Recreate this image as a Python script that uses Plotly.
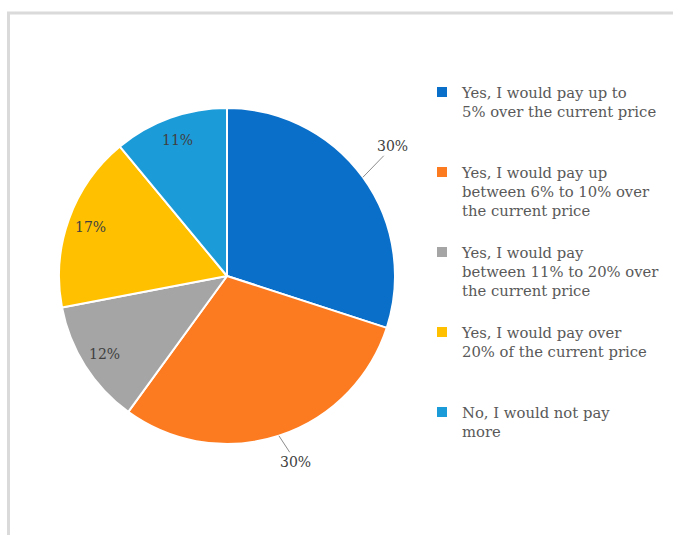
import math
import plotly.graph_objects as go

# ---- data ----
labels = [
    "Yes, I would pay up to<br>5% over the current price",
    "Yes, I would pay up<br>between 6% to 10% over<br>the current price",
    "Yes, I would pay<br>between 11% to 20% over<br>the current price",
    "Yes, I would pay over<br>20% of the current price",
    "No, I would not pay<br>more",
]
values = [30, 30, 12, 17, 11]
colors = ["#0A6FC9", "#FD7B20", "#A5A5A5", "#FFC000", "#1C9BD9"]

# ---- layout constants (pixels) ----
W, H = 673, 535
CX, CY, R = 227, 276, 168
FONT = "DejaVu Serif"

# pad legend entries to equal height (4 lines each)
def pad(lbl, n=4):
    k = lbl.count("<br>") + 1
    return lbl + "<br>&nbsp;" * (n - k)

legend_labels = [pad(l) for l in labels]

fig = go.Figure()
fig.add_trace(go.Pie(
    labels=legend_labels,
    values=values,
    sort=False,
    direction="clockwise",
    rotation=0,
    marker=dict(colors=colors, line=dict(color="white", width=2)),
    textposition="none",
    hoverinfo="label+percent",
    domain=dict(x=[(CX - R) / W, (CX + R) / W], y=[(H - CY - R) / H, (H - CY + R) / H]),
))

# percentage labels computed from the data
total = sum(values)
outside = [True, True, False, False, False]
out_offset = {0: (30, -31), 1: (17, 26)}
R_IN = 145
cum = 0
annotations = []
for i, v in enumerate(values):
    mid = (cum + v / 2) / total * 2 * math.pi
    cum += v
    txt = f"{round(v / total * 100)}%"
    if outside[i]:
        tx = CX + R * math.sin(mid)
        ty = CY - R * math.cos(mid)
        ax, ay = out_offset[i]
        annotations.append(dict(
            x=tx / W, y=1 - ty / H, xref="paper", yref="paper",
            text=txt, showarrow=True, arrowhead=0, arrowwidth=1,
            arrowcolor="#8C8C8C", ax=ax, ay=ay,
            font=dict(family=FONT, size=14, color="#404040"),
        ))
    else:
        lx = CX + R_IN * math.sin(mid)
        ly = CY - R_IN * math.cos(mid)
        annotations.append(dict(
            x=lx / W, y=1 - ly / H, xref="paper", yref="paper",
            xanchor="center", yanchor="middle",
            text=txt, showarrow=False,
            font=dict(family=FONT, size=14, color="#404040"),
        ))

fig.update_layout(
    width=W, height=H,
    margin=dict(l=0, r=0, t=0, b=0),
    paper_bgcolor="white",
    plot_bgcolor="white",
    showlegend=True,
    legend=dict(
        x=(462 - 40) / W, y=1 - 76 / H, xanchor="left", yanchor="top",
        font=dict(family=FONT, size=14.8, color="#595959"),
        valign="top",
        tracegroupgap=0,
        bgcolor="rgba(0,0,0,0)",
    ),
    annotations=annotations,
    shapes=[dict(
        type="rect", xref="paper", yref="paper",
        x0=8.5 / W, y0=1 - 13 / H, x1=1.05, y1=-0.05,
        line=dict(color="#DADADA", width=3), fillcolor="rgba(0,0,0,0)",
    )],
)

fig.write_html("out.html")
